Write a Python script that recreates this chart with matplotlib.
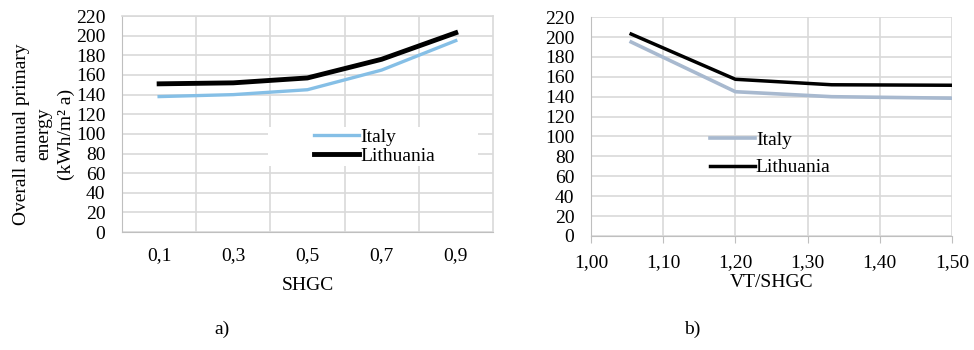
import matplotlib.pyplot as plt
import numpy as np
from matplotlib.patches import Rectangle
from matplotlib.ticker import MultipleLocator, FixedLocator

plt.rcParams['font.family'] = ['Liberation Serif', 'DejaVu Serif']

# a) energy vs SHGC
shgc_labels = ['0,1', '0,3', '0,5', '0,7', '0,9']
italy_a = [138, 140, 145, 165, 195]
lithuania_a = [151, 152, 157, 176, 203]

# b) energy vs VT/SHGC
vt_shgc = [1.0556, 1.2, 1.3333, 1.5]
italy_b = [195, 145, 140, 138.5]
lithuania_b = [203, 157.5, 152, 151.5]

grid_c = '#d9d9d9'
axis_c = '#bfbfbf'
fs = 14

fig = plt.figure(figsize=(9.74, 3.5), dpi=100)

# ---- a) ----
ax1 = fig.add_axes([0.1253, 0.337, 0.3807, 0.617])
x = np.arange(len(shgc_labels))
ax1.plot(x, italy_a, color='#85bfe6', lw=2.4, label='Italy', zorder=3)
ax1.plot(x, lithuania_a, color='black', lw=3.5, label='Lithuania', zorder=3)
ax1.set_xlim(-0.5, 4.5)
ax1.set_ylim(0, 220)
ax1.yaxis.set_major_locator(MultipleLocator(20))
ax1.set_xticks(x)
ax1.set_xticklabels(shgc_labels)
ax1.xaxis.set_minor_locator(FixedLocator([0.5, 1.5, 2.5, 3.5]))
ax1.grid(axis='y', which='major', color=grid_c, lw=1.2)
ax1.grid(axis='x', which='minor', color=grid_c, lw=1.2)
for s in ['top', 'right']:
    ax1.spines[s].set_color(grid_c)
    ax1.spines[s].set_linewidth(1.2)
ax1.spines['left'].set_color(axis_c)
ax1.spines['bottom'].set_color(axis_c)
ax1.tick_params(axis='both', which='both', length=0, labelsize=fs)
ax1.tick_params(axis='x', pad=11)
ax1.tick_params(axis='y', pad=12)
ax1.set_xlabel('SHGC', fontsize=fs, labelpad=9)
# white legend area (covers gridlines like the original)
ax1.add_patch(Rectangle((0.394, 0.306), 0.566, 0.18, transform=ax1.transAxes,
                        facecolor='white', edgecolor='none', zorder=2.5))
ax1.legend(loc='center left', bbox_to_anchor=(0.517, 0.395), frameon=False,
           fontsize=fs, handlelength=2.35, handletextpad=0.05,
           borderpad=0, labelspacing=0.05, borderaxespad=0)
fig.text(0.0455, 0.617, 'Overall annual primary\nenergy\n(kWh/m² a)', rotation=90,
         ha='center', va='center', multialignment='center', fontsize=14,
         linespacing=1.42)

# ---- b) ----
ax2 = fig.add_axes([0.6068, 0.326, 0.3706, 0.625])
ax2.plot(vt_shgc, italy_b, color='#a8b9cf', lw=2.6, label='Italy', zorder=3)
ax2.plot(vt_shgc, lithuania_b, color='black', lw=2.5, label='Lithuania', zorder=3)
ax2.set_xlim(1.0, 1.5)
ax2.set_ylim(0, 220)
ax2.yaxis.set_major_locator(MultipleLocator(20))
ax2.set_xticks(np.arange(1.0, 1.51, 0.1))
ax2.set_xticklabels([f'{v:.2f}'.replace('.', ',') for v in np.arange(1.0, 1.51, 0.1)])
ax2.grid(color=grid_c, lw=1.2)
for s in ['top', 'right']:
    ax2.spines[s].set_visible(False)
ax2.spines['left'].set_color(axis_c)
ax2.spines['bottom'].set_color(axis_c)
ax2.tick_params(axis='y', length=0, labelsize=fs, pad=12)
ax2.tick_params(axis='x', length=5, color=axis_c, labelsize=fs, pad=8)
ax2.set_xlabel('VT/SHGC', fontsize=fs, labelpad=2)
ax2.legend(loc='center left', bbox_to_anchor=(0.33, 0.375), frameon=False,
           fontsize=fs, handlelength=2.3, handletextpad=0.05,
           borderpad=0, labelspacing=0.5, borderaxespad=0)

fig.text(0.228, 0.06, 'a)', ha='center', va='center', fontsize=fs)
fig.text(0.711, 0.06, 'b)', ha='center', va='center', fontsize=fs)

fig.savefig('out.png', dpi=100)
